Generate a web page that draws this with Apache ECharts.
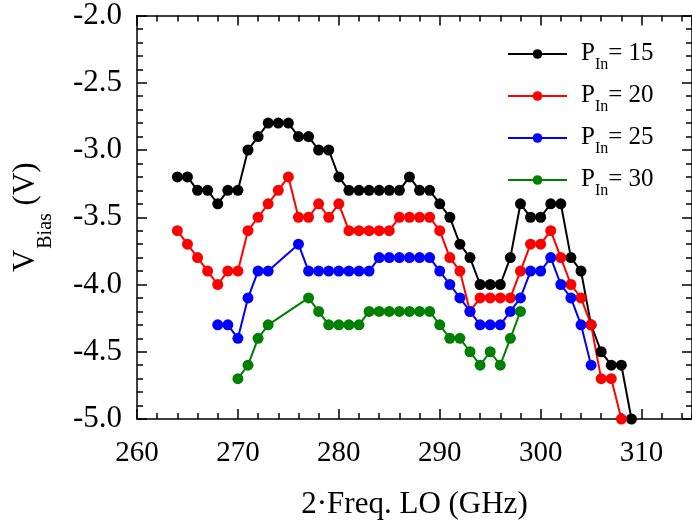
<!DOCTYPE html>
<html>
<head>
<meta charset="utf-8">
<script src="https://cdn.jsdelivr.net/npm/echarts@6/dist/echarts.min.js"></script>
<style>
html,body{margin:0;padding:0;background:#fff;}
#chart{width:692px;height:529px;}
</style>
</head>
<body>
<div id="chart"></div>
<script>
var seriesNames = ['15', '20', '25', '30'];
var seriesColors = ['#000000', '#ff0000', '#0000ff', '#008000'];
var xTickLabels = [260, 270, 280, 290, 300, 310];
var yTickLabels = [-5.0, -4.5, -4.0, -3.5, -3.0, -2.5, -2.0];

var freq15 = [264,265,266,267,268,269,270,271,272,273,274,275,276,277,278,279,280,281,282,283,284,285,286,287,288,289,290,291,292,293,294,295,296,297,298,299,300,301,302,303,304,305,306,307,308,309];
var vbias15 = [-3.2,-3.2,-3.3,-3.3,-3.4,-3.3,-3.3,-3.0,-2.9,-2.8,-2.8,-2.8,-2.9,-2.9,-3.0,-3.0,-3.2,-3.3,-3.3,-3.3,-3.3,-3.3,-3.3,-3.2,-3.3,-3.3,-3.4,-3.5,-3.7,-3.8,-4.0,-4.0,-4.0,-3.8,-3.4,-3.5,-3.5,-3.4,-3.4,-3.8,-3.9,-4.3,-4.5,-4.6,-4.6,-5.0];

var freq20 = [264,265,266,267,268,269,270,271,272,273,274,275,276,277,278,279,280,281,282,283,284,285,286,287,288,289,290,291,292,293,294,295,296,297,298,299,300,301,302,303,304,305,306,307,308];
var vbias20 = [-3.6,-3.7,-3.8,-3.9,-4.0,-3.9,-3.9,-3.6,-3.5,-3.4,-3.3,-3.2,-3.5,-3.5,-3.4,-3.5,-3.4,-3.6,-3.6,-3.6,-3.6,-3.6,-3.5,-3.5,-3.5,-3.5,-3.6,-3.8,-3.9,-4.2,-4.1,-4.1,-4.1,-4.1,-3.9,-3.7,-3.7,-3.6,-3.8,-4.0,-4.1,-4.3,-4.7,-4.7,-5.0];

var freq25 = [268,269,270,271,272,273,276,277,278,279,280,281,282,283,284,285,286,287,288,289,290,291,292,293,294,295,296,297,298,299,300,301,302,303,304,305];
var vbias25 = [-4.3,-4.3,-4.4,-4.1,-3.9,-3.9,-3.7,-3.9,-3.9,-3.9,-3.9,-3.9,-3.9,-3.9,-3.8,-3.8,-3.8,-3.8,-3.8,-3.8,-3.9,-4.0,-4.1,-4.2,-4.3,-4.3,-4.3,-4.2,-4.1,-3.9,-3.9,-3.8,-4.0,-4.1,-4.3,-4.6];

var freq30 = [270,271,272,273,277,278,279,280,281,282,283,284,285,286,287,288,289,290,291,292,293,294,295,296,297,298];
var vbias30 = [-4.7,-4.6,-4.4,-4.3,-4.1,-4.2,-4.3,-4.3,-4.3,-4.3,-4.2,-4.2,-4.2,-4.2,-4.2,-4.2,-4.2,-4.3,-4.4,-4.4,-4.5,-4.6,-4.5,-4.6,-4.4,-4.2];

var freqs = [freq15, freq20, freq25, freq30];
var vals = [vbias15, vbias20, vbias25, vbias30];

function pairs(xs, ys) {
  var out = [];
  for (var i = 0; i < xs.length; i++) out.push([xs[i], ys[i]]);
  return out;
}

var FONT = '"Liberation Serif", "Times New Roman", serif';
var chart = echarts.init(document.getElementById('chart'), null, {renderer: 'canvas'});

var lineStyleAxis = {color: '#000', width: 1.5};
function xAx(pos, interval, len, major) {
  return {
    type: 'value', position: pos, min: 260, max: 315, interval: interval,
    axisLine: {show: major, onZero: false, lineStyle: lineStyleAxis},
    axisTick: {show: true, inside: true, length: len, lineStyle: lineStyleAxis},
    axisLabel: {show: false},
    splitLine: {show: false}
  };
}
var xMain = xAx('bottom', 10, 10, true);
xMain.axisLabel = {
  show: true, showMaxLabel: false, margin: 20,
  fontFamily: FONT, fontSize: 29, color: '#000',
  formatter: function (v) { return xTickLabels.indexOf(v) >= 0 ? String(v) : ''; }
};
xMain.name = '2\u00b7Freq. LO (GHz)';
xMain.nameLocation = 'middle';
xMain.nameGap = 70;
xMain.nameTextStyle = {fontFamily: FONT, fontSize: 31, color: '#000'};

function yAx(pos, labels) {
  var a = {
    type: 'value', position: pos, min: -5, max: -2, interval: 0.5,
    axisLine: {show: true, onZero: false, lineStyle: lineStyleAxis},
    axisTick: {show: true, inside: true, length: 10, lineStyle: lineStyleAxis},
    minorTick: {show: true, splitNumber: 5, length: 6, lineStyle: lineStyleAxis},
    axisLabel: {show: false},
    splitLine: {show: false}
  };
  if (labels) {
    a.axisLabel = {
      show: true, margin: 15, fontFamily: FONT, fontSize: 31, color: '#000',
      formatter: function (v) { return yTickLabels.indexOf(v) >= 0 ? v.toFixed(1) : ''; }
    };
    a.name = '{v|V}{s|Bias}{v| (V)}';
    a.nameLocation = 'middle';
    a.nameGap = 96;
    a.nameRotate = 90;
    a.nameTextStyle = {
      fontFamily: FONT, color: '#000',
      rich: {
        v: {fontFamily: FONT, fontSize: 31, color: '#000', lineHeight: 31, verticalAlign: 'top'},
        s: {fontFamily: FONT, fontSize: 20, color: '#000', lineHeight: 20, padding: [26, 0, 0, 1], verticalAlign: 'top'}
      }
    };
  }
  return a;
}

var series = [];
for (var k = 0; k < seriesNames.length; k++) {
  series.push({
    name: seriesNames[k], type: 'line', xAxisIndex: 0, yAxisIndex: 0,
    data: pairs(freqs[k], vals[k]),
    symbol: 'circle', symbolSize: 11, showSymbol: true,
    lineStyle: {color: seriesColors[k], width: 2},
    itemStyle: {color: seriesColors[k]},
    animation: false, clip: false
  });
}

chart.setOption({
  backgroundColor: '#fff',
  animation: false,
  grid: {left: 137, right: -4, top: 15, bottom: 110, containLabel: false},
  xAxis: [xMain, xAx('bottom', 2, 6, false), xAx('top', 10, 10, true), xAx('top', 2, 6, false)],
  yAxis: [yAx('left', true), yAx('right', false)],
  legend: {
    orient: 'vertical', left: 502, top: 36,
    itemWidth: 59, itemHeight: 12, itemGap: 10,
    data: seriesNames,
    formatter: function (n) { return '{p|P}{s|In}{p|= ' + n + '}'; },
    textStyle: {
      fontFamily: FONT, color: '#000', padding: [0, 0, 0, 9],
      rich: {
        p: {fontFamily: FONT, fontSize: 25, color: '#000', lineHeight: 26, verticalAlign: 'top'},
        s: {fontFamily: FONT, fontSize: 16, color: '#000', lineHeight: 16, padding: [16, 0, 0, 0], verticalAlign: 'top'}
      }
    }
  },
  series: series
});
</script>
</body>
</html>
